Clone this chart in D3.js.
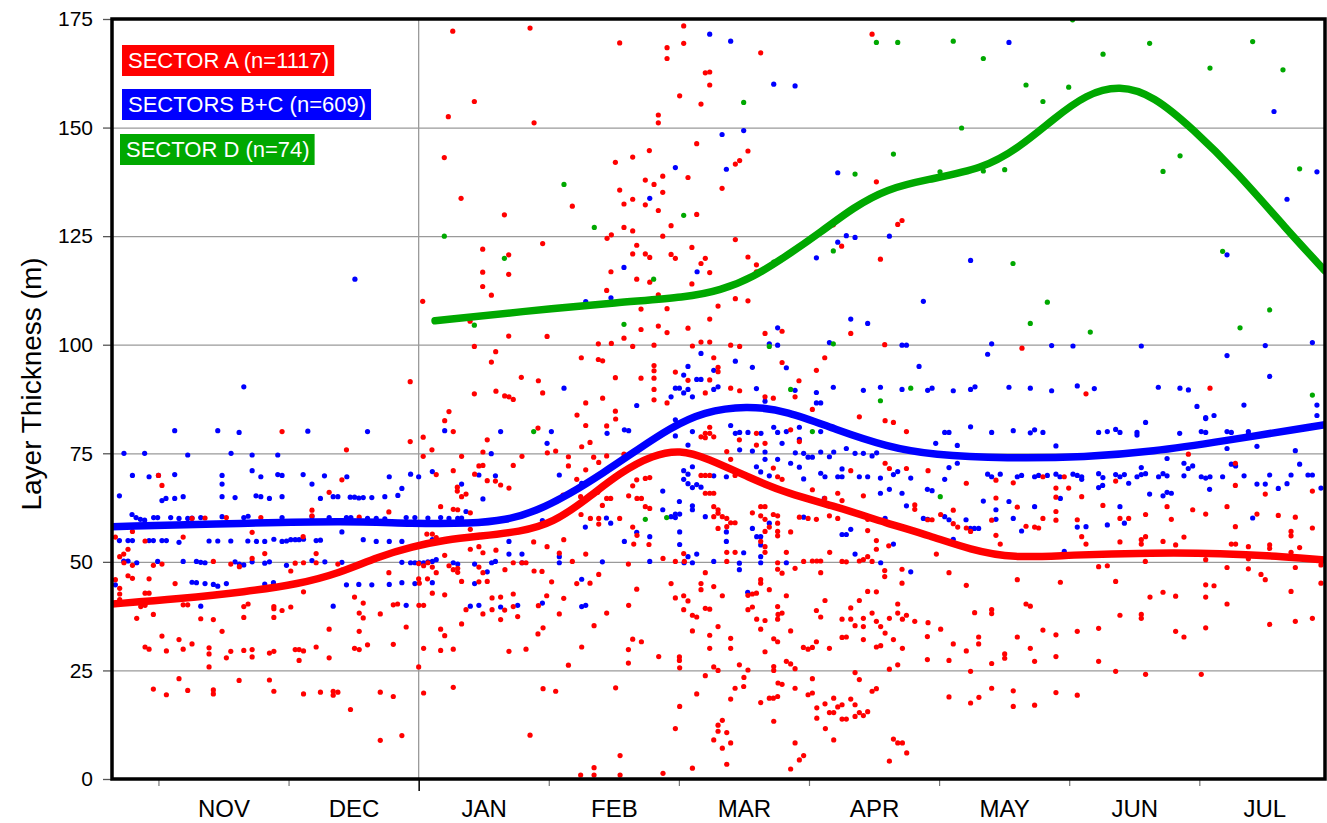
<!DOCTYPE html>
<html>
<head>
<meta charset="utf-8">
<script src="https://cdn.jsdelivr.net/npm/d3@7"></script>
<style>
  html, body { margin: 0; padding: 0; background: #fff; }
  svg { display: block; }
  text { font-family: Arial, 'Liberation Sans', sans-serif; }
</style>
</head>
<body>
<svg id="chart" width="1327" height="823"></svg>
<script>
// x values are months counted from 1 Oct (1 = 1 Nov, 3 = 1 Jan, 10 = 1 Aug)
const monthStarts = [1, 2, 3, 4, 5, 6, 7, 8, 9];
const monthLabels = ['NOV', 'DEC', 'JAN', 'FEB', 'MAR', 'APR', 'MAY', 'JUN', 'JUL'];
const yTicks = [0, 25, 50, 75, 100, 125, 150, 175];

const legendItems = [
  { label: 'SECTOR A (n=1117)', color: '#ff0000' },
  { label: 'SECTORS B+C (n=609)', color: '#0000ff' },
  { label: 'SECTOR D (n=74)', color: '#00a800' }
];

// smoothed trend for each group
const trendA = [[0.643,40.3],[1.16,41.5],[1.67,43.1],[2.08,44.9],[2.39,47.4],[2.69,51.2],[2.95,53.5],[3.21,55.1],[3.46,55.9],[3.78,56.9],[4.035,59.0],[4.29,64.4],[4.55,70.6],[4.80,74.6],[5.01,75.8],[5.21,74.0],[5.57,69.0],[5.83,65.8],[6.21,62.7],[6.60,58.9],[6.93,56.0],[7.24,52.8],[7.57,50.8],[8.0,51.6],[8.65,52.1],[9.16,52.0],[9.67,51.2],[9.966,50.4]];
const trendBC = [[0.643,58.1],[1.67,58.9],[2.44,59.4],[2.95,58.8],[3.41,58.8],[3.67,59.6],[3.90,61.6],[4.16,65.6],[4.42,70.5],[4.68,75.8],[4.93,80.8],[5.19,84.6],[5.52,86.0],[5.83,84.8],[6.21,80.4],[6.60,76.5],[6.95,74.6],[7.52,73.8],[8.13,74.1],[8.65,75.4],[9.16,77.7],[9.966,81.6]];
const trendD = [[3.126,105.5],[3.78,107.6],[4.55,109.8],[5.06,110.9],[5.32,112.5],[5.57,115.5],[5.83,120.5],[6.09,125.9],[6.34,131.6],[6.60,135.9],[6.90,138.0],[7.34,140.5],[7.62,145.5],[7.88,152.0],[8.13,157.7],[8.39,159.8],[8.65,157.3],[8.95,149.7],[9.29,139.7],[9.67,126.6],[9.966,117.0]];

// individual measurements, sector A
const sectorA = [
[2.935,91.5],[3.428,88.7],[3.594,89.3],[3.661,88.2],[3.694,88.0],[3.727,87.4],[1.95,80.0],[3.233,84.6],[3.2,82.5],[3.266,80.0],[3.527,78.1],[2.935,77.7],[3.035,78.7],[2.445,75.8],[3.102,75.8],[3.494,75.3],[3.035,74.3],[3.33,74.3],[3.794,74.3],[3.463,72.1],[3.494,72.2],[3.43,70.2],[3.266,71.0],[3.135,70.1],[2.41,68.9],[3.527,68.7],[3.59,68.6],[3.63,67.7],[3.694,67.0],[3.297,67.2],[3.297,66.3],[3.33,65.0],[3.364,65.6],[3.727,72.2],[1.027,67.6],[1.0,69.9],[2.312,66.0],[2.771,61.5],[3.169,62.7],[3.266,62.1],[3.3,62.0],[3.397,61.3],[2.18,61.9],[2.18,60.6],[2.543,60.3],[1.787,60.2],[1.522,60.2],[1.358,60.1],[1.258,60.0],[3.397,57.5],[0.669,55.7],[0.80,57.0],[1.19,55.7],[1.72,56.8],[2.112,55.8],[0.897,54.8],[3.063,56.4],[3.105,56.4],[3.135,55.6],[3.463,53.5],[3.494,52.1],[3.594,52.7],[3.397,52.9],[3.2,51.5],[0.733,51.8],[0.766,52.9],[0.702,51.2],[0.735,49.8],[0.80,49.2],[0.766,46.8],[0.80,46.2],[0.669,45.9],[0.702,43.9],[0.702,42.6],[0.702,41.3],[0.961,49.2],[1.027,49.5],[1.422,50.1],[1.556,49.5],[1.622,48.9],[1.72,50.8],[1.817,51.9],[2.017,47.9],[2.051,49.7],[2.115,49.8],[2.212,51.9],[2.212,49.8],[2.379,49.5],[2.41,48.1],[2.771,47.5],[3.0,49.6],[3.038,49.1],[3.071,49.8],[3.105,48.8],[3.135,47.5],[3.233,49.1],[3.266,48.2],[3.3,48.5],[3.3,47.6],[3.463,48.8],[3.494,47.5],[3.663,48.2],[3.794,49.8],[3.825,49.8],[3.727,49.8],[3.463,45.4],[3.527,45.5],[3.0,46.1],[3.005,45.1],[3.068,46.1],[3.105,42.8],[3.2,42.4],[3.33,45.5],[0.928,46.1],[0.897,42.8],[0.928,42.8],[0.864,39.7],[0.897,40.0],[1.19,40.1],[1.225,40.1],[1.128,45.0],[1.656,39.7],[1.689,40.3],[1.887,39.7],[1.887,39.2],[1.95,38.8],[2.017,39.6],[2.115,43.1],[2.507,41.9],[2.574,40.5],[2.543,38.2],[2.574,37.1],[2.705,38.0],[2.805,40.1],[2.838,40.3],[3.002,40.0],[3.038,40.0],[3.364,39.0],[3.494,38.0],[3.564,39.0],[3.63,41.9],[3.564,41.7],[3.63,36.7],[3.661,38.9],[3.727,39.7],[3.727,42.6],[3.761,37.4],[3.33,35.7],[0.833,37.0],[0.961,37.9],[1.325,36.9],[1.422,36.7],[1.489,34.0],[1.656,37.2],[1.887,37.2],[2.312,34.5],[2.543,34.0],[2.904,35.0],[3.169,34.5],[3.2,33.0],[1.027,32.9],[1.158,32.1],[1.19,29.9],[1.258,31.1],[0.897,30.4],[0.928,29.9],[1.061,29.5],[1.389,30.2],[1.389,28.8],[1.389,25.8],[1.522,27.9],[1.556,29.4],[1.656,29.6],[1.72,29.8],[1.72,28.1],[1.853,29.0],[1.887,29.4],[2.051,29.8],[2.081,29.8],[2.115,29.5],[2.081,27.3],[2.212,30.4],[2.312,27.9],[2.507,30.1],[2.543,29.8],[2.607,30.9],[2.805,31.0],[3.0,25.8],[3.038,30.1],[3.169,29.6],[3.266,29.9],[3.694,29.4],[3.825,29.9],[0.961,20.7],[1.061,19.4],[1.158,23.1],[1.225,20.4],[1.422,20.5],[1.422,19.6],[1.62,22.7],[1.853,22.8],[1.887,20.2],[2.115,19.6],[2.245,20.0],[2.343,20.2],[2.343,19.3],[2.379,20.0],[2.476,16.0],[2.705,20.0],[2.805,19.0],[3.038,19.8],[3.266,21.1],[2.705,8.9],[2.871,10.0],[3.856,10.1],
[3.262,172.2],[3.856,172.9],[3.428,156.0],[3.228,152.5],[3.887,151.1],[3.197,143.1],[3.326,133.7],[3.659,129.9],[4.181,131.9],[3.953,123.3],[3.492,122.0],[3.692,120.7],[3.492,116.7],[3.692,116.2],[3.492,113.4],[3.559,111.4],[3.031,110.0],[3.395,105.4],[3.692,102.0],[3.987,101.9],[3.428,99.6],[3.592,98.4],[3.559,96.0],[3.789,92.5],[3.92,91.7],[3.953,88.9],
[4.217,83.8],[4.545,169.5],[4.909,168.4],[5.037,173.4],[5.037,169.4],[4.909,165.9],[5.629,167.2],[5.203,162.6],[5.237,162.8],[5.237,159.8],[5.006,157.3],[5.17,155.4],[4.842,152.9],[4.842,151.1],[5.137,146.3],[4.773,144.7],[4.512,142.0],[4.645,143.2],[5.531,144.6],[5.467,142.4],[5.434,141.6],[5.07,138.5],[4.876,138.8],[4.742,137.9],[4.809,136.9],[4.545,135.6],[4.876,135.1],[5.332,136.0],[4.645,133.5],[4.578,132.4],[4.742,132.2],[4.842,130.9],[5.137,130.0],[4.94,127.4],[4.578,127.0],[4.645,126.2],[4.876,125.0],[4.481,125.3],[4.448,124.5],[5.434,124.2],[5.1,122.4],[4.676,122.9],[4.645,120.9],[4.742,120.9],[4.776,120.1],[4.94,120.8],[4.973,119.9],[5.203,119.9],[5.17,118.7],[5.531,120.2],[5.596,118.4],[5.596,116.8],[4.478,116.8],[5.237,116.6],[4.676,115.1],[4.776,114.4],[5.1,114.0],[4.445,112.5],[4.842,111.5],[5.434,110.6],[5.531,110.1],[5.301,108.9],[4.709,108.2],[4.909,108.3],[5.237,105.9],[4.842,104.3],[4.709,103.5],[4.909,102.8],[5.07,103.8],[4.578,101.5],[4.381,100.2],[4.481,100.3],[4.645,99.6],[4.809,99.9],[5.104,99.7],[5.17,100.6],[5.237,100.6],[5.398,99.9],[5.467,99.6],[5.662,102.6],[5.793,103.1],[6.187,127.6],[6.251,122.7],[6.682,127.7],[6.715,128.6],[6.549,119.7],[6.518,137.5],[6.485,171.5],[6.321,102.6],[6.582,100.0],[6.121,97.0],[6.057,94.1],[5.923,91.7],[5.793,95.9],[4.25,97.0],[4.381,96.6],[4.414,96.3],[4.512,92.4],[4.709,92.3],[4.809,95.2],[4.809,94.0],[4.809,92.3],[4.809,89.7],[4.809,87.3],[4.973,93.7],[5.07,91.8],[5.237,91.9],[5.301,94.8],[5.301,93.8],[5.268,97.0],[5.398,90.0],[5.467,89.4],[5.203,88.9],[4.909,86.6],[4.284,86.6],[4.414,87.7],[4.512,84.7],[5.662,88.0],[5.726,87.7],[5.893,88.0],[6.026,85.1],[6.387,83.4],
[7.637,99.2],[8.129,88.7],[9.082,90.0],
[3.917,80.8],[4.284,81.4],[4.317,77.5],[4.253,76.5],[3.989,75.1],[4.053,75.5],[4.151,74.2],[4.151,72.1],[4.345,74.1],[4.384,72.9],[4.445,74.4],[4.445,81.3],[4.514,82.9],[4.284,71.2],[4.215,69.0],[4.181,66.3],[4.245,65.0],[4.376,66.0],[4.445,64.6],[4.476,64.6],[4.412,63.0],[4.614,65.2],[4.645,67.5],[4.676,68.9],[4.742,69.2],[4.776,69.4],[4.678,64.6],[4.712,64.6],[4.742,62.7],[4.776,62.3],[4.578,74.8],[4.11,65.4],[4.248,60.9],[4.32,60.0],[4.384,60.0],[4.384,58.7],[4.545,60.0],[4.645,58.0],[4.678,56.1],[4.653,54.1],[4.77,54.0],[4.115,55.1],[3.987,53.5],[3.884,54.6],[4.081,52.0],[4.181,50.1],[4.284,51.8],[4.612,49.5],[4.878,50.8],[4.973,50.1],[5.037,51.9],[5.042,50.1],[3.948,47.8],[3.887,47.9],[4.022,45.4],[4.115,41.6],[4.215,45.0],[4.317,45.1],[4.384,47.1],[3.984,42.2],[3.92,39.9],[4.081,38.0],[4.348,35.3],[4.445,38.2],[4.614,40.0],[4.676,43.7],[3.956,34.8],[3.917,33.4],[4.151,26.2],[4.253,30.4],[4.612,29.8],[4.612,26.7],[4.645,32.2],[4.712,31.6],[4.845,28.2],[3.956,20.8],[4.053,20.2],[4.514,21.0],[4.245,0.9],[4.348,2.6],[4.348,0.9],[4.548,5.4],[4.548,0.9],[4.878,1.3],[5.104,2.5],
[4.94,45.0],[4.973,41.7],[5.037,42.2],[5.037,39.0],[5.07,41.0],[5.104,37.7],[5.137,37.3],[5.104,34.1],[5.004,28.1],[5.004,27.3],[5.006,25.6],[5.137,19.6],[5.006,16.7],[4.973,11.6],[5.203,47.5],[5.17,45.0],[5.17,43.6],[5.268,44.3],[5.203,39.3],[5.237,39.1],[5.334,42.2],[5.301,35.1],[5.237,33.1],[5.237,30.1],[5.203,23.8],[5.268,25.8],[5.301,25.0],[5.398,32.4],[5.398,30.1],[5.465,26.3],[5.531,25.1],[5.5,23.4],[5.498,21.3],[5.432,20.9],[5.398,18.4],[5.334,13.5],[5.301,12.4],[5.301,11.0],[5.368,10.7],[5.268,9.0],[5.398,8.3],[5.334,7.1],[5.368,3.4],
[5.565,42.6],[5.531,42.3],[5.596,42.8],[5.629,45.1],[5.629,45.9],[5.695,43.6],[5.531,39.0],[5.565,39.6],[5.598,36.8],[5.662,36.5],[5.629,34.5],[5.762,37.9],[5.793,38.2],[5.826,42.2],[5.759,39.7],[5.759,36.8],[5.859,34.1],[5.729,32.3],[5.759,31.6],[5.662,29.3],[5.826,27.1],[5.859,26.5],[5.893,25.4],[5.729,25.9],[5.729,25.0],[5.762,22.1],[5.793,21.8],[5.893,20.9],[6.026,23.1],[5.993,19.4],[6.026,19.8],[5.759,19.0],[5.695,18.6],[5.726,18.6],[5.629,17.6],[5.729,13.3],[5.893,8.3],[5.959,5.4],[5.926,4.4],[5.859,2.3],[6.618,4.1],[5.957,30.3],[5.993,29.9],[6.026,30.3],[6.057,31.6],[6.057,38.8],[6.09,37.3],[6.123,41.1],[6.157,30.1],[6.06,16.4],[6.06,14.0],[6.123,17.3],[6.157,15.3],[6.19,18.6],[6.19,15.3],[6.221,16.6],[6.254,17.1],[6.254,13.8],[6.287,13.8],[6.126,11.6],[6.19,9.0],[6.321,18.4],[6.354,17.1],[6.354,24.5],[6.387,22.9],[6.354,14.4],[6.387,15.3],[6.418,14.6],[6.451,15.5],[6.485,20.2],[6.518,20.8],[6.254,36.8],[6.321,36.8],[6.254,32.6],[6.287,32.7],[6.321,39.4],[6.354,35.3],[6.418,37.0],[6.418,35.1],[6.485,38.2],[6.518,36.3],[6.551,35.1],[6.418,32.1],[6.518,30.4],[6.551,30.7],[6.585,33.6],[6.618,37.0],[6.649,32.1],[6.682,26.3],[6.618,25.3],[6.718,30.1],[6.682,38.2],[6.718,36.8],[6.749,37.7],[6.813,36.3],[6.915,36.0],[6.91,32.8],[6.91,27.5],[6.751,6.0],[6.649,9.2],[6.682,8.3],[6.718,8.3],[6.451,43.2],[6.518,43.1],[6.387,41.1],[6.682,40.3],
[6.026,50.2],[6.06,50.2],[6.09,50.2],[5.959,50.1],[5.893,48.5],[6.09,47.5],[6.254,50.1],[6.287,50.0],[6.387,50.2],[6.418,50.5],[6.451,51.2],[6.485,50.1],[6.582,48.0],[6.582,46.6],[6.518,52.9],[6.613,53.7],[6.715,48.3],[6.715,45.1],[6.159,52.2],[5.759,49.8],[5.759,48.3],[5.793,47.4],[5.826,52.2],[5.662,53.5],[5.662,52.2],[5.629,54.7],[5.662,57.0],[5.695,58.0],[5.759,57.0],[5.759,56.0],[5.859,56.9],[5.629,60.6],[5.662,62.7],[5.629,62.7],[5.565,61.3],[5.662,59.8],[5.726,60.9],[5.759,60.6],[5.759,58.9],[5.368,52.2],[5.432,52.2],[5.368,50.1],[5.398,59.0],[5.432,59.0],[5.368,58.1],[5.301,57.7],[5.334,60.4],[5.268,60.4],[5.301,61.2],[5.368,60.0],[5.268,62.7],[5.301,62.0],[5.203,65.8],[5.237,65.8],[5.268,65.8],[5.17,69.9],[5.203,69.9],[5.237,69.9],[5.368,75.4],[5.398,73.6],[5.432,69.9],[5.203,79.6],[5.203,78.6],[5.237,79.6],[5.237,81.0],[5.17,78.8],[5.268,78.8],[5.465,78.1],[5.596,79.6],[5.596,76.9],[5.662,77.3],[5.726,71.6],[5.759,69.6],[5.793,69.0],[5.859,80.4],[5.926,77.7],[6.026,66.6],[6.121,64.6],[6.157,60.6],[6.221,65.8],[6.254,64.1],[6.221,60.0],[6.287,62.0],[6.321,71.0],[6.418,65.2],[6.451,59.8],[6.451,57.2],[6.518,54.9],[6.585,72.7],[6.618,71.5],[6.585,82.5],[6.649,82.1],[6.749,80.0],[6.749,71.5],[6.813,63.1],[6.813,62.1],[6.915,71.0],[6.912,59.7],[6.946,59.7],[6.057,59.8],[5.993,60.0],[5.926,60.3],
[8.916,74.8],[9.277,72.7],[7.209,68.1],[7.437,68.8],[7.57,68.2],[7.798,69.6],[7.962,69.6],[7.898,67.0],[7.996,67.0],[7.898,64.9],[8.096,65.0],[8.357,68.6],[7.437,64.7],[7.601,62.6],[7.898,61.6],[7.898,59.6],[7.798,60.0],[7.734,58.0],[7.765,57.8],[7.668,58.2],[7.404,59.6],[7.437,56.1],[7.47,54.1],[7.209,57.8],[7.242,57.0],[7.109,61.9],[7.109,58.8],[7.143,58.0],[7.012,60.9],[6.979,51.8],[8.062,59.7],[8.096,55.8],[8.129,54.1],[8.259,63.0],[8.39,60.0],[8.457,60.0],[8.587,60.9],[8.752,62.7],[8.785,59.8],[8.949,62.0],[9.049,61.0],[9.213,62.7],[9.277,58.1],[9.277,67.6],[9.443,61.0],[9.507,65.6],[9.607,60.7],[9.738,60.3],[9.869,57.8],[9.869,66.3],[8.39,54.6],[8.554,55.1],[8.554,54.1],[8.587,55.8],[8.721,54.7],[8.818,53.9],[8.882,55.7],[9.246,54.1],[9.279,54.1],[9.377,53.5],[9.541,53.9],[9.541,53.1],[9.705,57.0],[9.705,56.0],[9.771,53.3],[9.705,52.2],[8.585,50.1],[9.049,50.5],[9.377,50.7],[8.226,48.9],[8.293,49.1],[9.213,48.7],[9.377,48.4],[9.738,48.7],[9.935,49.3],[7.076,47.5],[7.209,44.6],[7.601,45.9],[7.932,45.3],[8.357,45.5],[9.049,44.7],[9.113,44.5],[9.474,47.1],[9.507,45.9],[9.935,45.1],[9.705,43.2],[9.049,41.9],[8.721,43.0],[8.818,42.1],[8.621,41.9],[9.213,40.3],[7.668,40.3],[7.701,39.8],[7.273,38.3],[7.404,39.0],[7.404,38.1],[8.39,37.7],[8.554,37.9],[8.554,37.0],[9.541,35.6],[9.738,36.3],[9.869,37.0],[9.049,34.8],[8.818,34.0],[8.882,32.7],[8.226,34.7],[8.062,34.0],[7.898,33.2],[7.798,34.3],[7.601,32.7],[7.304,32.7],[7.304,31.1],[7.109,31.1],[7.012,34.5],[7.209,29.5],[7.504,28.8],[7.504,27.8],[7.701,30.1],[7.734,27.1],[7.898,28.2],[7.404,26.6],[7.242,24.8],[7.076,27.3],[8.226,27.1],[8.357,24.8],[8.587,24.1],[9.015,24.1],[7.076,18.9],[7.242,17.5],[7.306,18.8],[7.404,20.9],[7.57,20.3],[7.57,16.7],[7.734,17.0],[7.898,19.9],[8.062,19.3]
];

// individual measurements, sectors B+C
const sectorBC = [
[1.656,90.3],[1.125,80.2],[1.456,80.2],[1.62,79.8],[2.148,80.1],[2.607,80.0],[0.735,75.0],[0.894,75.0],[1.225,74.6],[1.558,75.0],[1.72,74.6],[1.917,74.6],[0.80,69.9],[0.928,69.6],[1.0,69.9],[1.125,70.1],[1.489,69.9],[1.489,67.9],[1.72,71.0],[1.787,69.6],[1.917,70.1],[1.95,69.9],[2.112,70.1],[2.18,67.9],[2.276,69.8],[2.448,69.6],[2.774,69.6],[2.938,70.2],[3.0,69.6],[3.105,70.8],[3.2,80.2],[3.33,67.9],[3.463,70.0],[3.558,74.9],[3.59,69.8],[3.63,80.0],[3.494,64.5],[0.70,65.2],[1.027,64.1],[1.058,64.6],[1.125,64.6],[1.19,65.0],[1.489,65.0],[1.589,64.8],[1.75,65.2],[1.787,65.0],[1.853,64.6],[1.95,65.0],[2.245,64.6],[2.343,65.0],[2.379,65.0],[2.474,64.9],[2.507,64.9],[2.54,64.7],[2.574,64.8],[2.64,64.8],[2.74,65.0],[2.84,65.3],[2.871,66.9],
[0.797,60.9],[0.828,60.2],[0.861,59.8],[0.894,59.6],[0.963,60.2],[0.994,60.2],[1.094,60.2],[1.158,60.0],[1.225,60.0],[1.258,60.1],[1.325,60.2],[1.489,60.4],[1.656,60.2],[1.689,60.5],[1.95,60.2],[2.18,60.4],[2.312,60.2],[2.445,60.2],[2.479,60.2],[2.607,60.0],[2.674,60.0],[2.74,59.9],[2.904,60.2],[2.971,60.2],[3.071,60.1],[3.169,60.2],[3.233,60.0],[3.3,60.0],[3.33,60.1],[3.364,61.6],
[0.70,54.9],[0.766,54.9],[0.80,54.9],[0.928,54.9],[0.961,54.9],[1.027,54.9],[1.061,54.9],[1.158,54.5],[1.389,54.8],[1.456,54.8],[1.556,54.8],[1.687,54.8],[1.753,54.7],[1.817,54.7],[1.887,55.2],[1.95,54.7],[1.984,54.8],[2.017,55.1],[2.051,55.1],[2.081,55.1],[2.115,55.2],[2.212,54.9],[2.245,55.0],[2.41,56.9],[2.574,55.1],[2.674,54.7],[2.774,54.7],[2.871,54.7],[3.105,55.1],[3.694,54.7],[3.794,51.8],[3.694,51.8],
[0.733,50.2],[0.766,50.2],[0.833,49.8],[0.994,50.1],[1.19,50.1],[1.292,50.1],[1.325,49.9],[1.358,49.8],[1.589,50.0],[1.622,49.5],[1.656,49.3],[1.72,50.0],[1.817,49.7],[1.853,50.0],[1.984,49.2],[2.18,50.3],[2.279,50.0],[2.41,49.9],[2.871,49.9],[2.938,49.8],[2.971,49.8],[3.005,49.8],[3.038,49.8],[3.071,50.0],[3.105,50.1],[3.135,50.5],[3.266,49.8],[3.3,49.5],[3.43,49.5],[3.561,49.8],[3.59,50.1],[3.794,49.8],
[0.669,44.7],[1.258,45.3],[1.292,45.2],[1.358,45.0],[1.422,44.8],[1.456,44.4],[1.522,45.0],[1.817,44.9],[1.884,45.2],[2.445,44.7],[2.54,44.8],[2.64,44.7],[2.774,44.8],[2.871,45.2],[2.971,45.0],[3.105,45.2],[3.43,45.0],[3.527,47.7],
[1.325,39.8],[2.343,39.8],[2.904,40.0],[3.397,39.8],[3.463,40.0],[3.63,39.6],[3.761,40.0],
[2.51,115.1],[4.117,90.0],
[5.237,171.5],[5.398,169.9],[5.729,160.0],[5.893,159.6],[5.332,148.4],[5.498,149.3],[5.365,140.4],[4.973,140.8],[6.221,139.6],[4.776,133.7],[4.578,117.8],[5.14,116.8],[4.478,110.8],[4.284,109.9],[6.287,125.1],[6.354,124.7],[6.221,123.6],[6.618,125.0],[6.057,120.0],[6.879,110.0],[6.321,105.9],[6.451,104.9],[5.759,103.9],[5.695,100.2],[5.759,99.9],[6.157,100.5],[6.715,99.9],[6.749,99.9],[5.17,98.0],[5.434,96.2],[5.565,94.8],[5.826,94.7],[6.846,95.0],[5.07,95.0],[5.037,93.0],[5.137,92.0],[5.17,92.0],[5.268,94.1],[4.973,90.0],[5.004,90.0],[5.07,89.7],[5.037,88.9],[4.94,88.0],[5.104,88.0],[5.268,89.7],[5.301,90.3],[5.596,89.9],[5.662,87.0],[5.893,89.5],[6.057,89.0],[6.057,86.6],[6.09,86.6],[6.187,90.2],[6.418,89.5],[6.549,90.2],[6.715,89.7],[6.912,89.5],[6.946,90.0],[4.676,86.0],
[7.537,169.6],[9.574,153.7],[9.674,133.5],[9.904,139.8],[9.213,120.7],[7.242,119.4],[7.404,100.2],[7.373,97.8],[7.865,99.8],[8.029,99.7],[8.554,99.7],[9.507,99.8],[9.869,100.5],[9.213,97.5],[9.541,92.7],[7.109,89.4],[7.242,89.7],[7.276,90.3],[7.537,90.2],[7.701,90.0],[7.865,89.4],[8.062,90.5],[8.193,89.9],[8.685,90.2],[8.851,90.0],[8.916,89.6],[8.982,85.8],[9.049,83.2],[9.113,83.7],[9.343,86.1],[9.904,86.1],[9.904,83.7],
[4.02,80.0],[3.987,77.3],[4.081,70.0],[4.253,68.1],[4.281,58.0],[3.951,59.5],[4.443,60.1],[4.476,58.9],[4.253,46.0],[4.253,39.7],[4.284,40.0],[3.951,40.5],[4.081,51.2],[4.081,49.8],[4.412,50.0],[4.448,79.6],[4.581,80.4],[4.614,80.2],[4.676,56.8],[4.776,55.8],[4.581,54.7],[4.776,50.1],[4.876,66.3],[4.876,62.0],[4.94,60.4],[4.973,61.0],[5.006,61.0],[5.006,56.9],[4.973,60.2],[4.973,79.0],[4.973,82.7],[5.004,63.9],[5.037,71.0],[5.037,69.0],[5.07,70.2],[5.07,68.0],[5.104,67.1],[5.137,67.8],[5.17,67.2],[5.104,71.9],[5.07,76.9],[5.104,80.0],[5.104,62.9],[5.104,62.0],[5.203,60.4],[5.006,54.0],[5.04,49.8],[5.07,51.2],[5.137,51.8],[5.104,49.8],[5.268,50.1],[5.365,56.9],[5.365,54.7],[5.268,69.8],[5.365,69.6],[5.398,81.4],[5.434,79.6],[5.467,79.8],[5.531,79.8],[5.467,75.8],[5.565,75.5],[5.631,79.6],[5.662,75.3],[5.662,73.6],[5.596,71.9],[5.629,70.7],[5.695,69.8],[5.729,81.0],[5.759,79.8],[5.793,77.3],[5.826,80.0],[5.759,73.6],[5.859,72.7],[5.926,81.0],[5.926,78.2],[5.895,75.1],[5.959,75.0],[5.993,74.1],[6.026,74.1],[5.926,71.8],[5.959,69.1],[6.09,80.0],[6.09,75.3],[6.09,70.4],[6.123,69.6],[6.157,74.2],[6.19,75.3],[6.221,69.6],[6.254,71.4],[6.254,69.6],[6.287,76.1],[6.354,75.0],[6.387,69.6],[6.418,75.0],[6.451,69.6],[6.485,74.4],[6.52,75.1],[6.549,65.8],[6.549,69.3],[6.618,66.7],[6.649,70.1],[6.715,65.8],[6.682,70.8],[6.749,62.9],[6.782,69.3],[6.585,60.0],[6.649,54.1],[6.91,66.7],[6.974,77.3],[6.879,60.0],[6.912,59.8],[6.946,66.4],[6.782,47.7],[6.551,49.8],[6.354,51.8],[6.254,56.3],[6.287,56.3],[6.321,57.5],[6.118,64.6],[5.959,60.3],[5.695,58.9],[5.629,55.8],[5.598,55.8],[5.565,57.7],[5.629,53.9],[5.629,49.8],[5.629,51.2],[5.826,49.8],[5.529,43.0],[5.465,48.2],[5.465,49.7],[5.498,52.1],
[7.242,81.1],[7.043,79.8],[7.076,79.8],[7.404,79.8],[7.57,80.2],[7.701,79.7],[7.734,80.4],[7.798,79.8],[8.226,79.8],[8.293,80.0],[8.357,80.5],[8.39,79.8],[8.521,79.8],[8.521,79.2],[8.587,82.1],[8.849,79.6],[9.015,80.0],[9.049,79.8],[9.049,83.0],[9.213,80.0],[9.246,79.8],[9.377,80.0],[9.377,79.4],[9.213,76.1],[9.443,76.6],[9.738,75.6],[7.14,76.8],[7.898,76.7],[7.14,72.7],[7.076,71.7],[7.043,69.0],[7.373,70.2],[7.404,69.6],[7.47,70.2],[7.601,69.6],[7.634,69.9],[7.734,69.6],[7.765,69.9],[7.832,69.9],[7.898,70.2],[7.929,69.6],[8.029,70.2],[8.062,69.9],[8.096,69.6],[8.096,69.0],[8.226,70.3],[8.259,69.4],[8.357,70.1],[8.39,69.6],[8.424,70.1],[8.521,69.6],[8.554,70.1],[8.587,70.3],[8.554,71.7],[8.687,69.6],[8.721,70.3],[8.752,69.8],[8.882,69.8],[8.915,71.5],[8.949,72.1],[8.882,72.7],[9.015,69.6],[9.049,69.3],[9.082,69.6],[9.179,69.6],[9.246,72.5],[9.279,72.1],[9.344,69.8],[9.443,67.9],[9.507,67.9],[9.541,70.0],[9.607,66.9],[9.674,68.0],[9.705,70.0],[9.771,72.5],[9.835,70.0],[9.869,70.0],[9.935,67.0],[8.752,73.8],[8.618,65.6],[8.721,65.2],[8.752,66.0],[8.785,65.8],[9.079,66.7],[8.457,68.1],[8.226,67.1],[8.257,67.6],[7.932,64.6],[7.34,64.0],[7.537,63.9],[7.734,62.7],[8.39,62.7],[7.437,62.0],[7.437,59.8],[7.57,60.0],[7.634,57.1],[8.062,58.0],[8.129,58.1],[8.293,58.5],[8.424,58.9],[9.41,60.1],[7.24,57.7],[7.271,57.7],[7.304,57.7],[7.207,59.7],[7.109,55.2],[7.076,59.7],[7.043,60.4],[7.962,52.4]
];

// individual measurements, sector D
const sectorD = [
[4.117,136.9],[3.197,125.0],[3.659,119.9],[3.428,104.5],
[6.518,169.6],[6.682,169.6],[5.498,155.8],[6.649,143.9],[6.354,139.3],[5.037,129.8],[4.35,127.0],[4.578,104.7],[4.806,115.1],[5.729,119.0],[6.187,121.6],[7.007,139.8],[5.695,99.6],[6.187,100.2],[5.859,89.7],[6.782,90.0],[6.549,87.1],
[8.026,174.8],[7.109,169.9],[7.34,165.9],[8.26,166.9],[8.618,169.4],[9.41,169.8],[7.668,159.8],[7.996,159.3],[7.798,156.0],[9.082,163.7],[9.643,163.3],[7.173,149.9],[7.34,140.0],[7.504,140.3],[8.721,139.9],[8.852,143.5],[9.771,140.5],[7.568,118.7],[9.179,121.5],[7.832,109.8],[7.701,104.9],[8.162,102.9],[9.541,108.0],[9.313,103.9],[9.869,88.4],
[3.884,80.0],[4.742,59.8],[4.906,60.2],[6.026,80.0],[7.009,65.0]
];

const margin = { top: 19, right: 2, bottom: 44, left: 112 };
const width = 1327 - margin.left - margin.right;
const height = 823 - margin.top - margin.bottom;

const svg = d3.select('#chart');
const g = svg.append('g').attr('transform', `translate(${margin.left},${margin.top})`);

const x = d3.scaleLinear().domain([0.643, 9.966]).range([0, width]);
const y = d3.scaleLinear().domain([0, 175]).range([height, 0]);

// horizontal grid
g.append('g')
  .attr('class', 'grid')
  .call(d3.axisLeft(y).tickValues(yTicks.slice(1, -1)).tickSize(-width).tickFormat(''))
  .call((s) => s.select('.domain').remove())
  .call((s) => s.selectAll('line').attr('stroke', '#9a9a9a').attr('stroke-width', 1.3));

// the January gridline
g.append('line')
  .attr('x1', x(3)).attr('x2', x(3))
  .attr('y1', 0).attr('y2', height)
  .attr('stroke', '#9a9a9a')
  .attr('stroke-width', 1.3);

g.append('clipPath').attr('id', 'plot-clip')
  .append('rect').attr('width', width).attr('height', height);

const plot = g.append('g').attr('clip-path', 'url(#plot-clip)');

function drawPoints(data, color) {
  plot.append('g')
    .selectAll('circle')
    .data(data)
    .join('circle')
    .attr('cx', (d) => x(d[0]))
    .attr('cy', (d) => y(d[1]))
    .attr('r', 2.6)
    .attr('fill', color);
}
drawPoints(sectorBC, '#0000ff');
drawPoints(sectorA, '#ff0000');
drawPoints(sectorD, '#00a800');

// knots are smoothed with a B-spline
const line = d3.line()
  .x((d) => x(d[0]))
  .y((d) => y(d[1]))
  .curve(d3.curveBasis);

function drawTrend(data, color) {
  plot.append('path')
    .datum(data)
    .attr('d', line)
    .attr('fill', 'none')
    .attr('stroke', color)
    .attr('stroke-width', 7.5)
    .attr('stroke-linecap', 'round');
}
drawTrend(trendD, '#00a800');
drawTrend(trendBC, '#0000ff');
drawTrend(trendA, '#ff0000');

// y axis
const yAxis = g.append('g')
  .call(d3.axisLeft(y).tickValues(yTicks).tickSize(9).tickPadding(10))
  .call((s) => s.select('.domain').remove());
yAxis.selectAll('line').attr('stroke', '#555').attr('stroke-width', 1.3);
yAxis.selectAll('text')
  .attr('font-size', 21)
  .attr('font-family', 'Arial, Liberation Sans, sans-serif')
  .attr('fill', '#000');

// x axis: month boundary ticks
const xAxis = g.append('g')
  .attr('transform', `translate(0,${height})`)
  .call(d3.axisBottom(x).tickValues(monthStarts).tickSize(7).tickFormat(''))
  .call((s) => s.select('.domain').remove());
xAxis.selectAll('line').attr('stroke', '#777').attr('stroke-width', 1.2);
xAxis.selectAll('.tick').filter((d) => d === 3).select('line')
  .attr('y2', 12).attr('stroke', '#000').attr('stroke-width', 1.5);

// x axis: month names centred in each month
const xLabels = g.append('g')
  .attr('transform', `translate(0,${height})`)
  .call(d3.axisBottom(x)
    .tickValues(monthStarts.map((m) => m + 0.5))
    .tickSize(0)
    .tickPadding(21)
    .tickFormat((d, i) => monthLabels[i]))
  .call((s) => s.select('.domain').remove());
xLabels.selectAll('text')
  .attr('font-size', 24)
  .attr('font-family', 'Arial, Liberation Sans, sans-serif')
  .attr('fill', '#000');

// frame
g.append('rect')
  .attr('width', width)
  .attr('height', height)
  .attr('fill', 'none')
  .attr('stroke', '#000')
  .attr('stroke-width', 3.5);

// y title
svg.append('text')
  .attr('transform', `translate(41,${margin.top + y(87.5) - 15}) rotate(-90)`)
  .attr('text-anchor', 'middle')
  .attr('font-size', 28)
  .attr('fill', '#000')
  .text('Layer Thickness (m)');

// legend
const legend = g.append('g').attr('transform', 'translate(10,26)');
legendItems.forEach((item, i) => {
  const row = legend.append('g').attr('transform', `translate(${i === 2 ? -2 : 0},${i * 44 + (i === 2 ? 1 : 0)})`);
  const label = row.append('text')
    .attr('x', 6)
    .attr('y', 23)
    .attr('font-size', 22)
    .attr('fill', '#fff')
    .text(item.label);
  const w = label.node().getComputedTextLength();
  row.insert('rect', 'text')
    .attr('width', w + 11)
    .attr('height', 31)
    .attr('fill', item.color);
});
</script>
</body>
</html>
